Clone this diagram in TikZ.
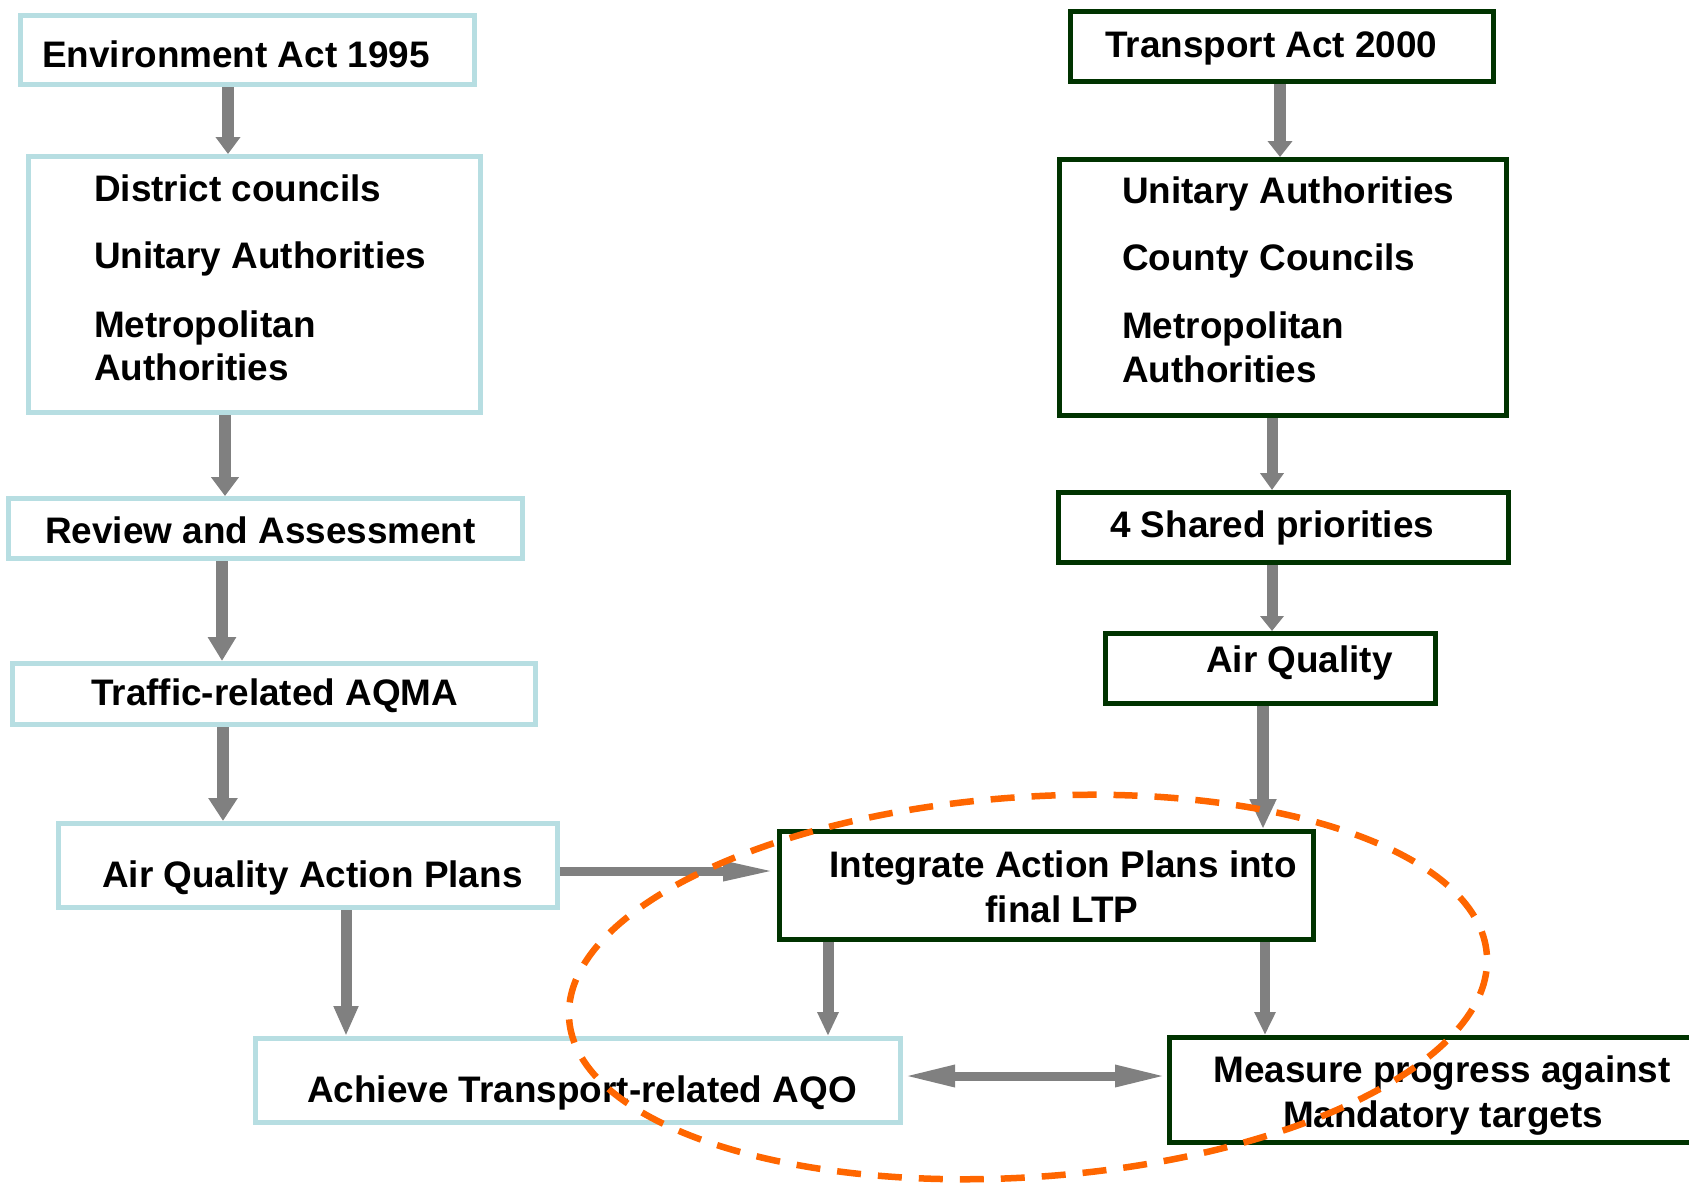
\documentclass[tikz,border=0pt]{standalone}
\usepackage{fontspec}
\setmainfont{Liberation Sans}
\usetikzlibrary{arrows.meta}
\definecolor{boxblue}{RGB}{183,222,226}
\definecolor{boxgreen}{RGB}{0,51,0}
\definecolor{arrowgray}{RGB}{128,128,128}
\definecolor{ringorange}{RGB}{255,102,0}
\begin{document}
\begin{tikzpicture}[x=1pt,y=-1pt,
  bluebox/.style={draw=boxblue, line width=5pt, fill=white, inner sep=0pt, rectangle},
  greenbox/.style={draw=boxgreen, line width=5pt, fill=white, inner sep=0pt, rectangle},
  lbl/.style={font=\fontsize{36.9}{44}\selectfont\bfseries, inner sep=0pt, anchor=base west},
  clbl/.style={lbl, anchor=base},
  varrow/.style 2 args={draw=arrowgray, line width=12pt, -{Triangle[length=#1,width=#2]}},
  harrow/.style={draw=arrowgray, line width=9pt, -{Triangle[length=54pt,width=18pt]}},
  darrow/.style={draw=arrowgray, line width=9pt, {Triangle[length=52pt,width=20pt]}-{Triangle[length=52pt,width=20pt]}},
  ring/.style={draw=ringorange, line width=6.5pt, dash pattern=on 24pt off 17pt}
]
\useasboundingbox (0,0) rectangle (1689,1183);
\clip (0,0) rectangle (1689,1183);

% left column boxes
\node[bluebox, minimum width=454pt, minimum height=69pt] (env) at (247.5,50) {};
\node[bluebox, minimum width=452pt, minimum height=256pt] (dist) at (254.5,284.5) {};
\node[bluebox, minimum width=514pt, minimum height=60pt] (review) at (265.5,528.5) {};
\node[bluebox, minimum width=523pt, minimum height=61pt] (traffic) at (274,694) {};
\node[bluebox, minimum width=499pt, minimum height=84pt] (aqap) at (308,865.5) {};
\node[bluebox, minimum width=645pt, minimum height=84pt] (aqo) at (578,1080.5) {};

% right column boxes
\node[greenbox, minimum width=423pt, minimum height=70pt] (transport) at (1282,46.5) {};
\node[greenbox, minimum width=447pt, minimum height=256pt] (unitary) at (1283,287.5) {};
\node[greenbox, minimum width=450pt, minimum height=70pt] (shared) at (1283.5,527.5) {};
\node[greenbox, minimum width=330pt, minimum height=70pt] (airq) at (1270.5,668.5) {};
\node[greenbox, minimum width=534pt, minimum height=108pt] (integ) at (1046.5,885.5) {};
\node[greenbox, minimum width=551pt, minimum height=105pt] (measure) at (1445,1090) {};

% texts
\node[lbl] (tenv) at (42,67) {Environment Act 1995};
\node[lbl] (tdist1) at (94,201) {District councils};
\node[lbl] (tdist2) at (94,268) {Unitary Authorities};
\node[lbl] (tdist3) at (94,337) {Metropolitan};
\node[lbl] (tdist4) at (94,380) {Authorities};
\node[lbl] (trev) at (45,543) {Review and Assessment};
\node[lbl] (ttraf) at (91,705) {Traffic-related AQMA};
\node[lbl] (taqap) at (102,887) {Air Quality Action Plans};
\node[lbl] (taqo) at (307,1102) {Achieve Transport-related AQO};
\node[lbl] (ttrans) at (1105,57) {Transport Act 2000};
\node[lbl] (tuni1) at (1122,203) {Unitary Authorities};
\node[lbl] (tuni2) at (1122,270) {County Councils};
\node[lbl] (tuni3) at (1122,338) {Metropolitan};
\node[lbl] (tuni4) at (1122,382) {Authorities};
\node[lbl] (tshared) at (1110,537) {4 Shared priorities};
\node[lbl] (tairq) at (1206,672) {Air Quality};
\node[clbl] (tint1) at (1063,877) {Integrate Action Plans into};
\node[clbl] (tint2) at (1062,922) {final LTP};
\node[clbl] (tmeas1) at (1442,1082) {Measure progress against};
\node[clbl] (tmeas2) at (1443,1127) {Mandatory targets};

% arrow columns / rows
\coordinate (c1) at (228,0);
\coordinate (c2) at (225,0);
\coordinate (c3) at (222,0);
\coordinate (c4) at (223,0);
\coordinate (c5) at (346,0);
\coordinate (c7) at (828,0);
\coordinate (c8) at (1280,0);
\coordinate (c9) at (1272,0);
\coordinate (c11) at (1263,0);
\coordinate (c12) at (1265,0);
\coordinate (r6) at (0,871);
\coordinate (r13) at (0,1076);

\draw[varrow={17pt}{24pt}] (env.south -| c1) -- (dist.north -| c1);
\draw[varrow={19pt}{27pt}] (dist.south -| c2) -- (review.north -| c2);
\draw[varrow={24pt}{27pt}] (review.south -| c3) -- (traffic.north -| c3);
\draw[varrow={23pt}{28pt}] (traffic.south -| c4) -- (aqap.north -| c4);
\draw[varrow={30pt}{23pt}, line width=11pt] (aqap.south -| c5) -- (aqo.north -| c5);
\draw[harrow] (aqap.east |- r6) -- (integ.west |- r6);
\draw[varrow={24pt}{20pt}, line width=11pt] (integ.south -| c7) -- (aqo.north -| c7);
\draw[varrow={16pt}{24pt}] (transport.south -| c8) -- (unitary.north -| c8);
\draw[varrow={17pt}{23pt}, line width=11pt] (unitary.south -| c9) -- (shared.north -| c9);
\draw[varrow={15pt}{23pt}, line width=11pt] (shared.south -| c9) -- (airq.north -| c9);
\draw[varrow={30pt}{25pt}] (airq.south -| c11) -- (integ.north -| c11);
\draw[varrow={23pt}{20pt}, line width=10pt] (integ.south -| c12) -- (measure.north -| c12);
\draw[darrow] (aqo.east |- r13) -- (measure.west |- r13);

% dashed ring
\coordinate (ringc) at (1028,987);
\draw[ring, rotate around={4:(ringc)}] (ringc) ellipse [x radius=460pt, y radius=190pt];
\end{tikzpicture}
\end{document}
